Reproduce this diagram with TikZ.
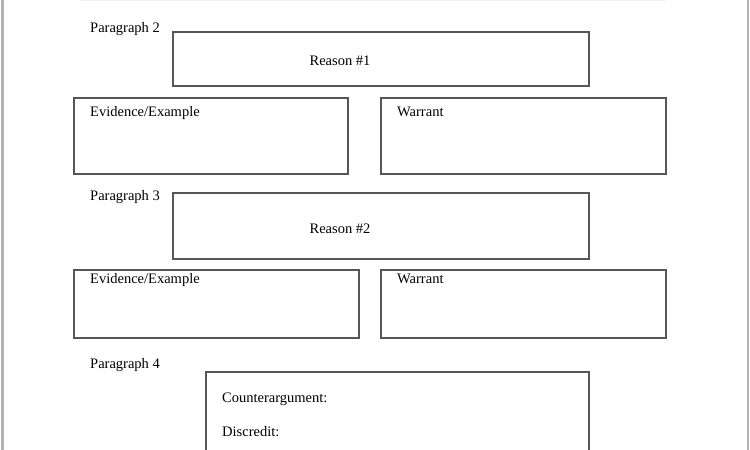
\documentclass[tikz,border=0pt]{standalone}
\usepackage{fontspec}
\setmainfont{Liberation Serif}
\begin{document}
\begin{tikzpicture}[x=1pt,y=-1pt,
  box/.style={draw=black!66, line width=1.6pt, rectangle, inner sep=0pt, anchor=north west},
  lbl/.style={inner sep=0pt, anchor=base west, font=\fontsize{14.5}{17}\selectfont},
  clbl/.style={inner sep=0pt, anchor=base, font=\fontsize{14.5}{17}\selectfont}]
\path[use as bounding box, clip] (0,0) rectangle (750,450);
\fill[white] (0,0) rectangle (750,450);
% side rules
\fill[black!30] (1,0) rectangle (3.5,450);
\fill[black!30] (746.5,0) rectangle (749,450);
\draw[black!6, line width=0.8pt] (80,0.6) -- (665,0.6);
% Paragraph 2
\node[lbl] (p2) at (90,32) {Paragraph 2};
\node[box, minimum width=416pt, minimum height=54pt] (r1) at (172,31) {};
\node[clbl] (r1t) at (340,65) {Reason \#1};
\node[box, minimum width=274pt, minimum height=76pt] (e1) at (73,97) {};
\node[lbl] (e1t) at (90,116) {Evidence/Example};
\node[box, minimum width=285pt, minimum height=76pt] (w1) at (380,97) {};
\node[lbl] (w1t) at (397,116) {Warrant};
% Paragraph 3
\node[lbl] (p3) at (90,200) {Paragraph 3};
\node[box, minimum width=416pt, minimum height=66pt] (r2) at (172,192) {};
\node[clbl] (r2t) at (340,233) {Reason \#2};
\node[box, minimum width=285pt, minimum height=68pt] (e2) at (73,269) {};
\node[lbl] (e2t) at (90,283) {Evidence/Example};
\node[box, minimum width=285pt, minimum height=68pt] (w2) at (380,269) {};
\node[lbl] (w2t) at (397,283) {Warrant};
% Paragraph 4
\node[lbl] (p4) at (90,368) {Paragraph 4};
\node[box, minimum width=383pt, minimum height=100pt] (c) at (205,371) {};
\node[lbl] (ct) at (222,402) {Counterargument:};
\node[lbl] (dt) at (222,436) {Discredit:};
\end{tikzpicture}
\end{document}
